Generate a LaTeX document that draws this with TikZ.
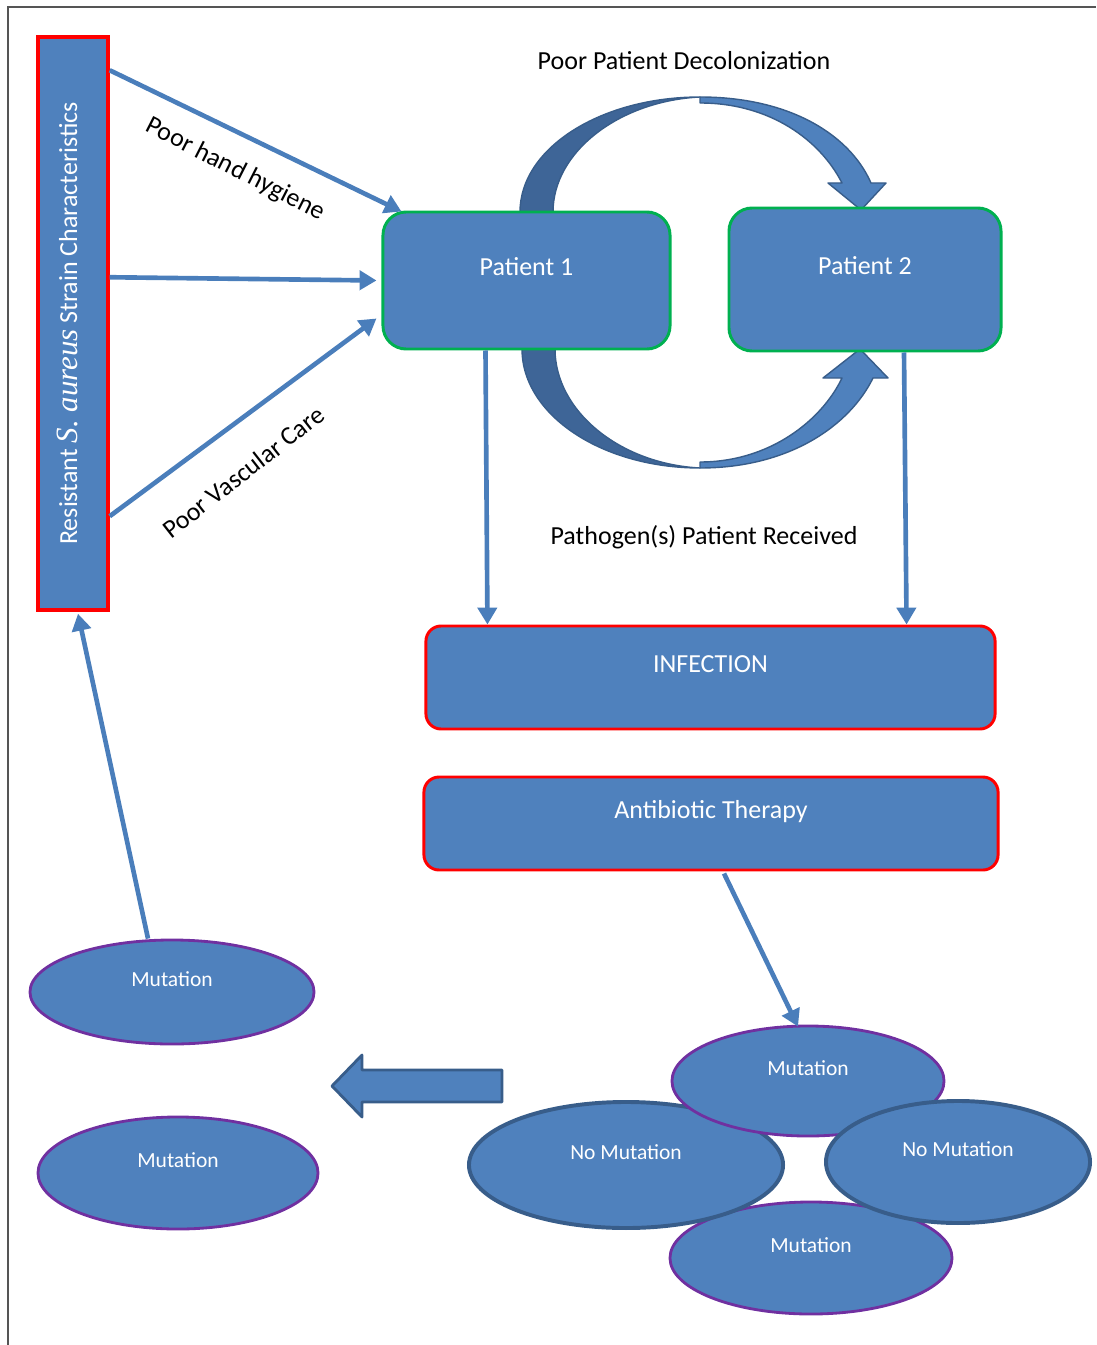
\documentclass[tikz,border=0pt]{standalone}
\usepackage{fontspec}
\setmainfont{Carlito}
\newfontfamily\serifit{Liberation Serif}
\usetikzlibrary{shapes.geometric, arrows.meta, calc}

\definecolor{boxblue}{HTML}{4F81BD}
\definecolor{darkblue}{HTML}{385D8A}
\definecolor{backblue}{HTML}{3E6597}
\definecolor{linkblue}{HTML}{4A7EBB}
\definecolor{pgreen}{HTML}{00B050}
\definecolor{mpurple}{HTML}{7030A0}
\definecolor{framegray}{HTML}{555555}

\newcommand{\boxfont}{\fontsize{18.5}{22}\selectfont}
\newcommand{\ovalfont}{\fontsize{15.3}{18}\selectfont}

\tikzstyle{patient} = [rectangle, rounded corners=0.58cm, draw=pgreen, fill=boxblue, line width=2.1pt, text=white, font=\boxfont, text height=13pt, text depth=20.5pt]
\tikzstyle{outcome} = [rectangle, rounded corners=0.38cm, draw=red, fill=boxblue, line width=2.1pt, text=white, font=\boxfont, text height=13pt, text depth=20.5pt]
\tikzstyle{strain} = [rectangle, draw=red, fill=boxblue, line width=2.4pt, text=white, font=\boxfont, rotate=90, text height=13pt, text depth=7pt]
\tikzstyle{mutation} = [ellipse, draw=mpurple, fill=boxblue, line width=2pt, text=white, font=\ovalfont, text height=11pt, text depth=19pt, inner sep=0pt]
\tikzstyle{nomutation} = [mutation, draw=darkblue, line width=2.8pt]
\tikzstyle{caption} = [font=\boxfont, text=black, text height=13pt, text depth=4pt]
\tikzstyle{arrow} = [line width=3.3pt, draw=linkblue, -{Triangle[length=12pt 0, width=13.5pt 0]}]
\tikzstyle{blockback} = [fill=backblue, draw=darkblue, line width=1pt, line join=round]
\tikzstyle{blockfront} = [fill=boxblue, draw=darkblue, line width=1pt, line join=round]

\begin{document}
\begin{tikzpicture}[x=0.025cm, y=-0.025cm]
	\useasboundingbox (0,0) rectangle (1096,1345);
	% Frame
	\draw[framegray, line width=1.4pt] (8,1345) -- (8,7) -- (1096,7);
	% Curved arrows
	\draw [blockback] (520,212) .. controls (520,148) and (601,97) .. (700,97) .. controls (619,101) and (553,152) .. (553,212) -- cycle;
	\draw [blockfront] (700,97) .. controls (790,97) and (850,135) .. (871,183) -- (886,183) -- (861,210) -- (828,183) -- (842,183) .. controls (820,140) and (770,103) .. (700,103) -- cycle;
	\draw [blockback] (522,349) .. controls (522,415) and (602,468) .. (700,468) .. controls (620,464) and (555,411) .. (555,349) -- cycle;
	\draw [blockfront] (700,468) .. controls (790,468) and (850,425) .. (873,378) -- (888,378) -- (860,349) -- (823,378) -- (842,378) .. controls (822,420) and (770,462) .. (700,462) -- cycle;
	% Nodes
	\node (res) [strain, minimum width=14.325cm, minimum height=1.75cm] at (73,323.5) {Resistant {\serifit\itshape\fontsize{22}{22}\selectfont S. aureus} Strain Characteristics};
	\node (p1) [patient, minimum width=7.175cm, minimum height=3.425cm] at (526.5,280.5) {Patient 1};
	\node (p2) [patient, minimum width=6.8cm, minimum height=3.575cm] at (865,279.5) {Patient 2};
	\node (infect) [outcome, minimum width=14.225cm, minimum height=2.575cm] at (710.5,677.5) {INFECTION};
	\node (anti) [outcome, minimum width=14.35cm, minimum height=2.325cm] at (711,823.5) {Antibiotic Therapy};
	\node (mut1) [mutation, minimum width=7.1cm, minimum height=2.6cm] at (172,992) {Mutation};
	\node (mut2) [mutation, minimum width=7cm, minimum height=2.8cm] at (178,1173) {Mutation};
	\node (mbot) [mutation, minimum width=7.05cm, minimum height=2.8cm] at (811,1258) {Mutation};
	\node (nmleft) [nomutation, minimum width=7.85cm, minimum height=3.15cm] at (626,1165) {No Mutation};
	\node (mtop) [mutation, minimum width=6.8cm, minimum height=2.75cm] at (808,1081) {Mutation};
	\node (nmright) [nomutation, minimum width=6.6cm, minimum height=3.05cm] at (958,1162) {No Mutation};
	\node (decol) [caption] at (684,63) {Poor Patient Decolonization};
	\node (recv) [caption] at (704,538) {Pathogen(s) Patient Received};
	\node (hygiene) [caption, rotate=-27] at (235,170) {Poor hand hygiene};
	\node (vascular) [caption, rotate=38] at (245,474) {Poor Vascular Care};
	% Arrows
	\draw [arrow] ($(res.south east)+(0,35)$) -- ($(p1.north west)+(20,1)$);
	\draw [arrow] ($(res.south east)+(0,242)$) -- ($(p1.west)+(-5,0)$);
	\draw [arrow] ($(res.south east)+(0,481)$) -- ($(p1.west)+(-5,38)$);
	\draw [arrow] ($(p1.south)+(-41,0)$) -- ($(infect.north west)+(63,0)$);
	\draw [arrow] ($(p2.south)+(39,0)$) -- ($(infect.north east)+(-90,0)$);
	\draw [arrow] ($(anti.south)+(13,2)$) -- ($(mtop.north)+(-10,2)$);
	\draw [arrow] ($(mut1.north)+(-24,0)$) -- ($(res.west)+(5,2)$);
	\draw [blockfront, line width=2pt] (502,1070) -- (362,1070) -- (362,1055) -- (332,1086) -- (362,1117) -- (362,1102) -- (502,1102) -- cycle;
\end{tikzpicture}
\end{document}
